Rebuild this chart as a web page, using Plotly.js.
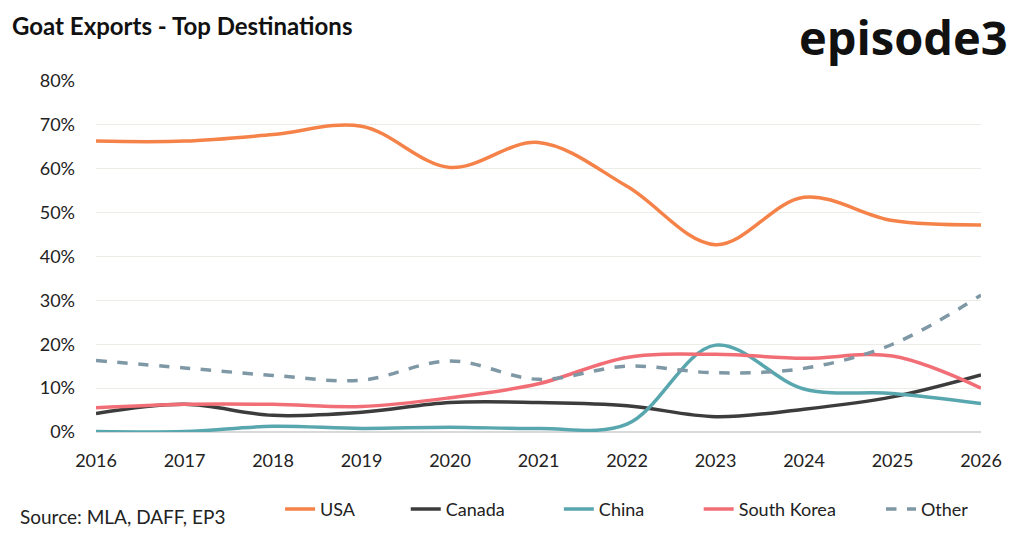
<!DOCTYPE html>
<html>
<head>
<meta charset="utf-8">
<script src="https://cdn.plot.ly/plotly-3.0.1.min.js"></script>
<style>
  html, body { margin: 0; padding: 0; background: #fff; }
  #chart { width: 1024px; height: 540px; }
</style>
</head>
<body>
<div id="chart"></div>
<script>
// Share of goat exports by destination
const years = [2016, 2017, 2018, 2019, 2020, 2021, 2022, 2023, 2024, 2025, 2026];
const usa = [0.663, 0.663, 0.678, 0.697, 0.603, 0.660, 0.560, 0.427, 0.535, 0.482, 0.472];
const canada = [0.042, 0.063, 0.038, 0.045, 0.067, 0.067, 0.060, 0.035, 0.052, 0.080, 0.130];
const china = [0.001, 0.001, 0.013, 0.008, 0.011, 0.008, 0.018, 0.198, 0.098, 0.088, 0.065];
const southKorea = [0.055, 0.063, 0.063, 0.058, 0.078, 0.110, 0.170, 0.177, 0.168, 0.173, 0.100];
const other = [0.163, 0.146, 0.129, 0.118, 0.162, 0.120, 0.150, 0.135, 0.145, 0.200, 0.312];

const FONT = "Lato, 'Open Sans', sans-serif";

// one legend per trace so the items can sit where the original puts them
const legendX = [0.208, 0.350, 0.523, 0.681, 0.887];
const legendIds = ["legend", "legend2", "legend3", "legend4", "legend5"];

function series(name, values, color, i, dash) {
  return {
    x: years,
    y: values,
    name: name,
    type: "scatter",
    mode: "lines",
    legend: legendIds[i],
    line: { color: color, width: 3.5, shape: "spline", smoothing: 1, dash: dash || "solid" },
    hovertemplate: `<b>${name}</b> %{x}: %{y:.1%}<extra></extra>`,
  };
}

const traces = [
  series("USA", usa, "#f58349", 0),
  series("Canada", canada, "#3c3c3c", 1),
  series("China", china, "#58a6ae", 2),
  series("South Korea", southKorea, "#f26e76", 3),
  series("Other", other, "#7f98a5", 4, "dash"),
];

const layout = {
  width: 1024,
  height: 540,
  font: { family: FONT, color: "#222", size: 18 },
  margin: { l: 96, r: 43, t: 81, b: 108 },
  plot_bgcolor: "#fff",
  paper_bgcolor: "#fff",
  title: {
    text: "<b>Goat Exports - Top Destinations</b>",
    font: { family: FONT, size: 24, color: "#111" },
    x: 12 / 1024, xanchor: "left", xref: "container",
    y: 1 - 27 / 540, yanchor: "middle", yref: "container",
  },
  xaxis: {
    range: [2016, 2026],
    tickmode: "array",
    tickvals: years,
    ticktext: years.map(String),
    showgrid: false,
    zeroline: false,
    showline: false,
    ticks: "",
    ticklabelstandoff: 16,
    tickfont: { size: 18, color: "#222" },
  },
  yaxis: {
    range: [0, 0.8],
    dtick: 0.1,
    tickformat: ".0%",
    gridcolor: "#ececE6",
    gridwidth: 1.2,
    zeroline: true,
    zerolinecolor: "#d9d9d9",
    zerolinewidth: 1.5,
    showline: false,
    ticks: "",
    ticklabelstandoff: 20,
    tickfont: { size: 18, color: "#222" },
  },
  showlegend: true,
  annotations: [
    {
      text: "<b>episode3</b>",
      xref: "paper", yref: "paper",
      x: 1.033, xanchor: "right",
      y: 1.125, yanchor: "middle",
      showarrow: false,
      font: { family: "'Open Sans', Lato, sans-serif", size: 47, color: "#111" },
    },
    {
      text: "Source: MLA, DAFF, EP3",
      xref: "paper", yref: "paper",
      x: -0.088, xanchor: "left",
      y: -0.242, yanchor: "middle",
      showarrow: false,
      font: { size: 19, color: "#222" },
    },
  ],
};

legendIds.forEach((id, i) => {
  layout[id] = {
    orientation: "h",
    x: legendX[i], xanchor: "left",
    y: -0.22, yanchor: "middle",
    font: { size: 18, color: "#222" },
    bgcolor: "rgba(0,0,0,0)",
  };
});

const config = { responsive: false, displayModeBar: false, displaylogo: false };

Plotly.newPlot("chart", traces, layout, config);
</script>
</body>
</html>
